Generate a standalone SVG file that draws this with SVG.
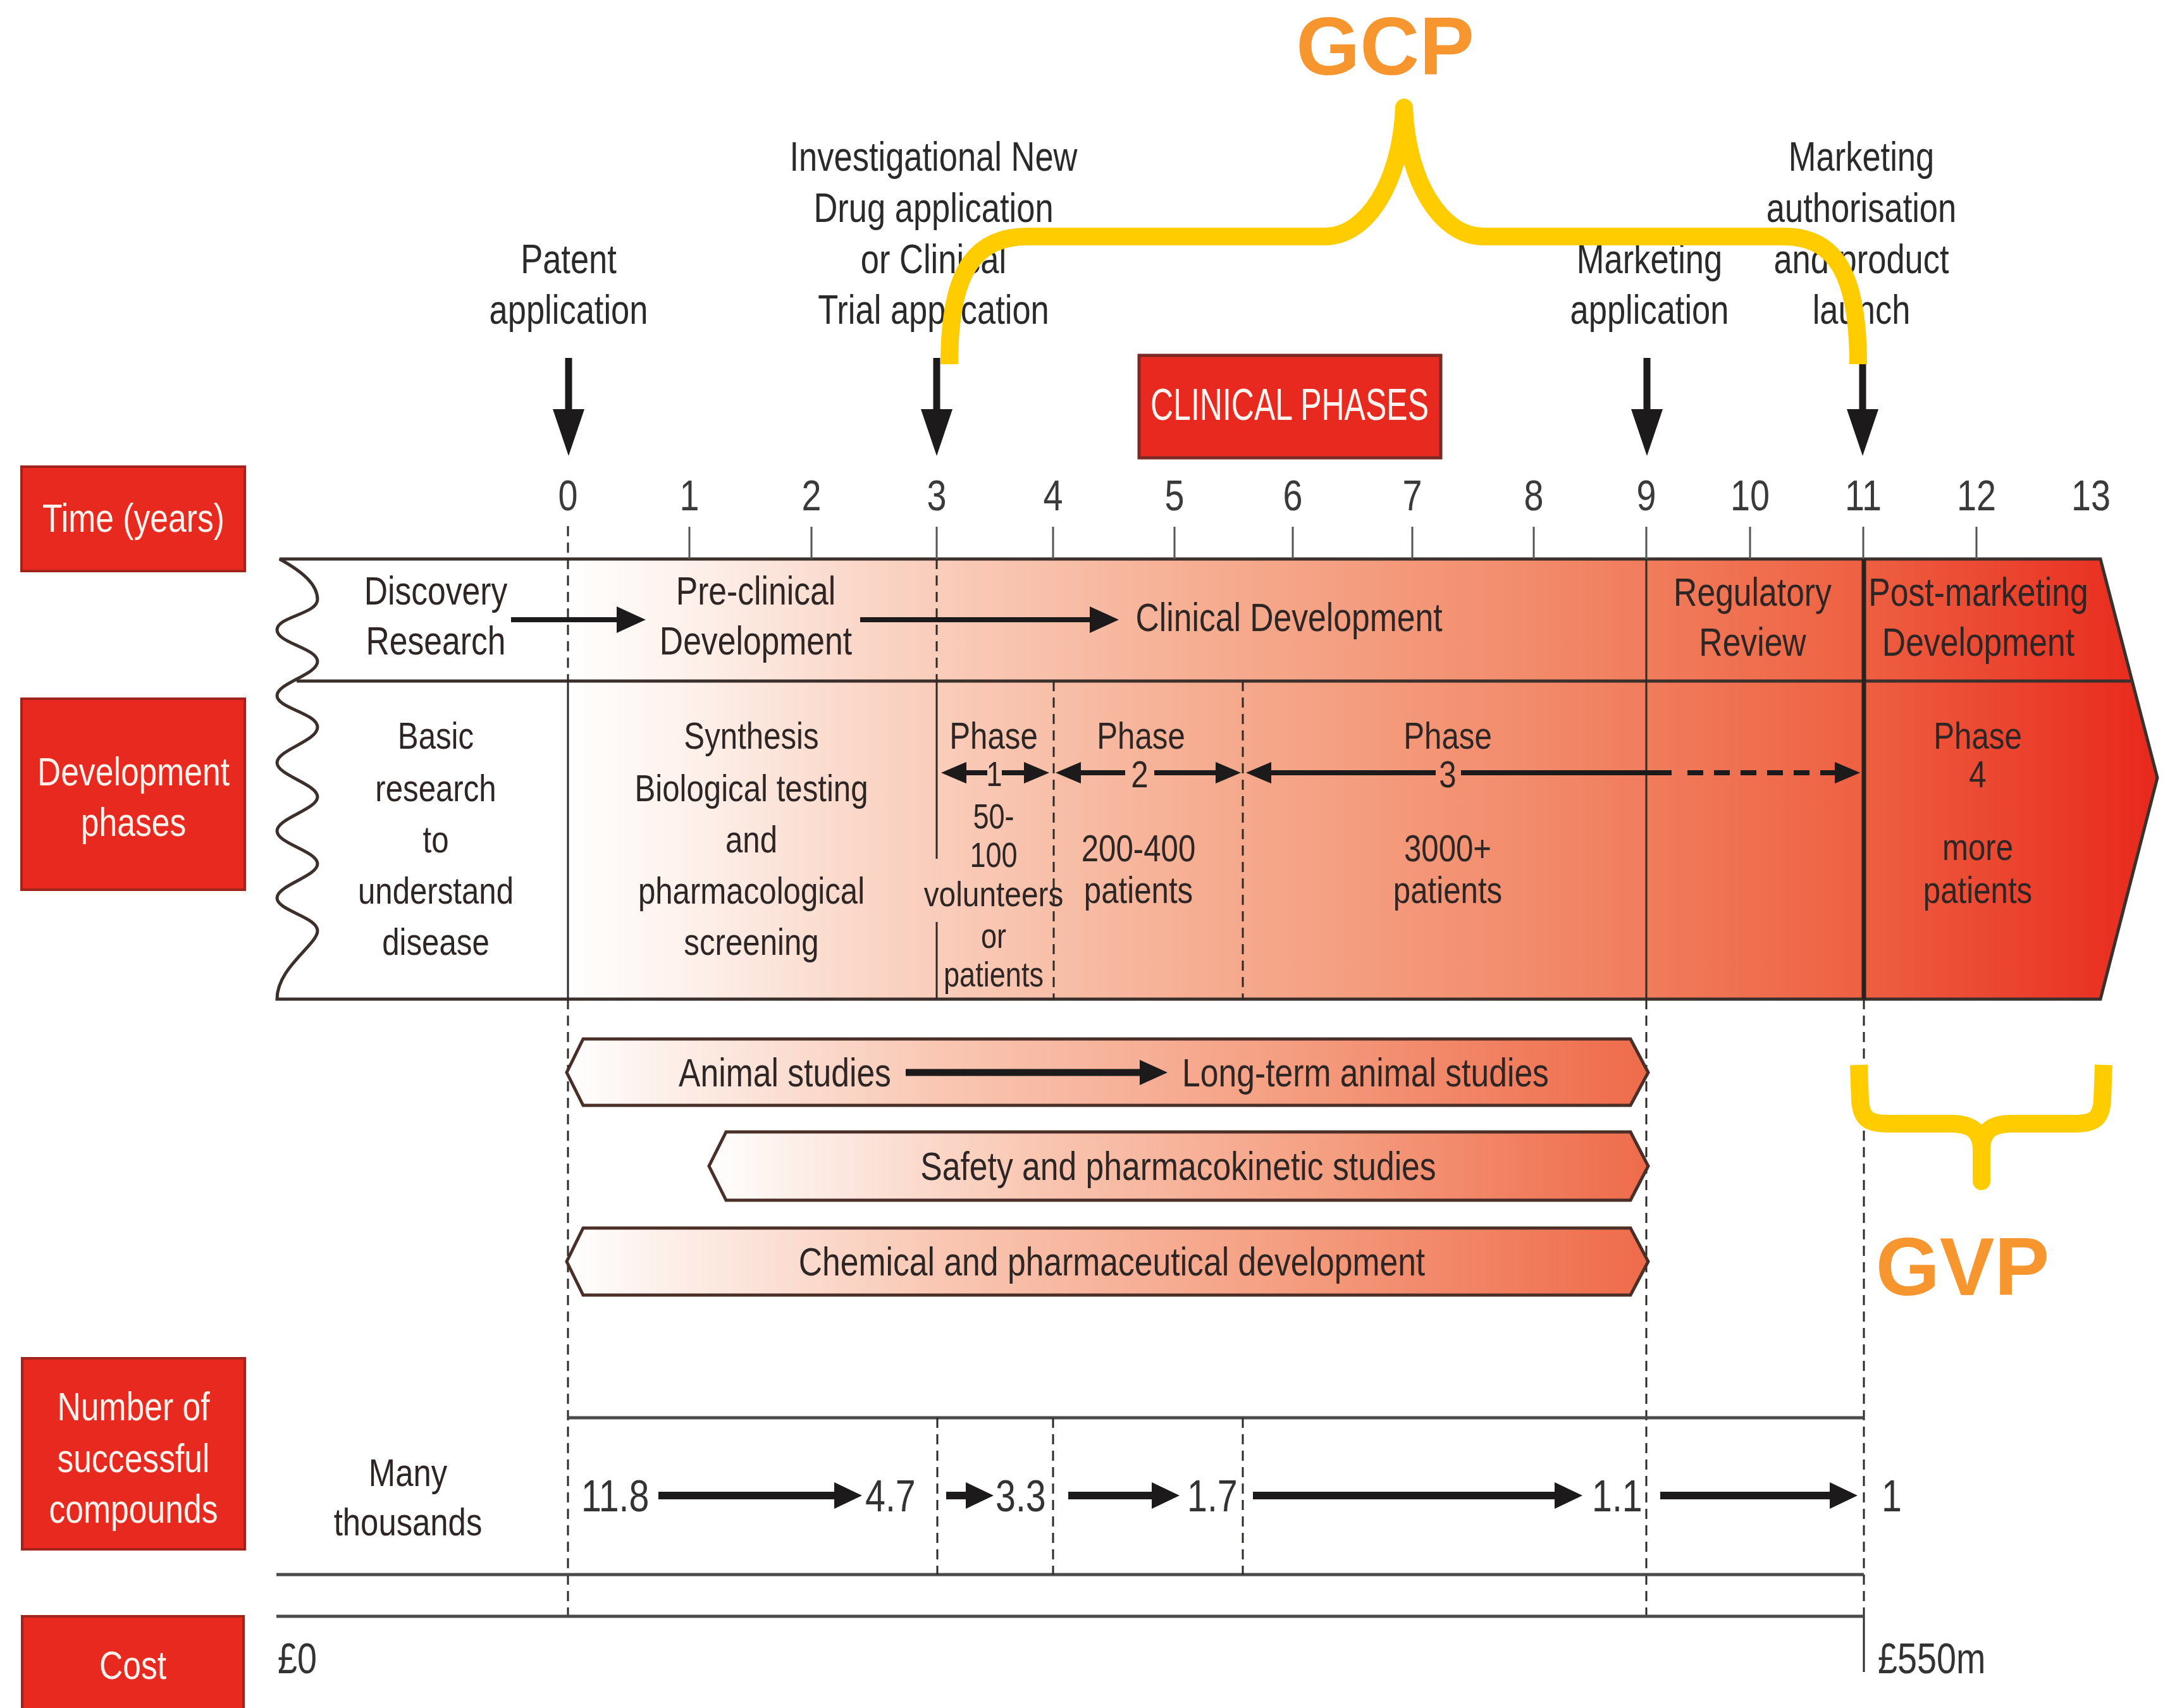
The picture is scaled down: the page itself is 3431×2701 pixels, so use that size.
<svg xmlns="http://www.w3.org/2000/svg" width="3431" height="2701" viewBox="0 0 3431 2701">
<defs>
  <linearGradient id="bandGrad" gradientUnits="userSpaceOnUse" x1="898" y1="0" x2="3411" y2="0">
    <stop offset="0" stop-color="#ffffff"/>
    <stop offset="0.08" stop-color="#fdf0ea"/>
    <stop offset="0.2" stop-color="#fad3c3"/>
    <stop offset="0.4" stop-color="#f6ad91"/>
    <stop offset="0.6" stop-color="#f28c6c"/>
    <stop offset="0.8" stop-color="#ee6444"/>
    <stop offset="1" stop-color="#e8281c"/>
  </linearGradient>
  <linearGradient id="barGrad" x1="0" y1="0" x2="1" y2="0">
    <stop offset="0" stop-color="#ffffff"/>
    <stop offset="0.08" stop-color="#fdf1ec"/>
    <stop offset="0.35" stop-color="#f9c6b2"/>
    <stop offset="0.65" stop-color="#f5a083"/>
    <stop offset="1" stop-color="#ee6b4a"/>
  </linearGradient>
  <marker id="ahBand" markerUnits="userSpaceOnUse" viewBox="0 0 46 42" markerWidth="46" markerHeight="42" refX="1" refY="21" orient="auto">
    <path d="M0,0 L46,21 L0,42 z" fill="#1c1a1a"/>
  </marker>
  <marker id="ahPhase" markerUnits="userSpaceOnUse" viewBox="0 0 40 34" markerWidth="40" markerHeight="34" refX="1" refY="17" orient="auto">
    <path d="M0,0 L40,17 L0,34 z" fill="#1c1a1a"/>
  </marker>
  <marker id="ahDown" markerUnits="userSpaceOnUse" viewBox="0 0 74 50" markerWidth="74" markerHeight="50" refX="1" refY="25" orient="auto">
    <path d="M0,0 L74,25 L0,50 z" fill="#1c1a1a"/>
  </marker>
  <marker id="ahComp" markerUnits="userSpaceOnUse" viewBox="0 0 44 42" markerWidth="44" markerHeight="42" refX="1" refY="21" orient="auto">
    <path d="M0,0 L44,21 L0,42 z" fill="#1c1a1a"/>
  </marker>
  <marker id="ahBar" markerUnits="userSpaceOnUse" viewBox="0 0 44 40" markerWidth="44" markerHeight="40" refX="1" refY="20" orient="auto">
    <path d="M0,0 L44,20 L0,40 z" fill="#1c1a1a"/>
  </marker>
</defs>
<style>
  .t { font-family: 'Liberation Sans', Arial, sans-serif; fill: #2e2624; text-anchor: middle; }
  .top { font-size: 64px; fill: #2a2a2a; }
  .axis { font-size: 68px; fill: #3a3a3a; }
  .b1 { font-size: 63px; }
  .b2 { font-size: 60px; }
  .p1 { font-size: 55px; }
  .bar { font-size: 63px; }
  .cmp { font-size: 70px; fill: #333333; text-anchor: start; }
  .cst { font-size: 68px; fill: #333333; text-anchor: start; }
  .many { font-size: 62px; }
  .box { fill: #e8291f; stroke: #a0241b; stroke-width: 4; }
  .boxt { font-size: 63px; fill: #fff2ec; }
  .grad { stroke: #3b302c; stroke-width: 5; }
  .barshape { fill: url(#barGrad); stroke: #4a2e28; stroke-width: 5; }
  .solid { stroke: #2f2a28; stroke-width: 3; fill: none; }
  .dash { stroke: #2f2a28; stroke-width: 3; stroke-dasharray: 16 10; fill: none; }
  .tick { stroke: #555555; stroke-width: 3; }
  .hline { stroke: #4a4a4a; stroke-width: 5; }
  .arr { stroke: #1c1a1a; fill: none; }
  .yel { stroke: #ffcc00; stroke-width: 28; fill: none; }
  .gxp { font-family: 'Liberation Sans', Arial, sans-serif; font-weight: bold; font-size: 130px; fill: #f7962f; text-anchor: middle; }
</style>

<rect x="0" y="0" width="3431" height="2701" fill="#ffffff"/>

<!-- Main band -->
<g id="band">
  <path class="grad" fill="url(#bandGrad)" d="M 442,884 C 480,905 502,925 502,948 S 438,975 438,996 S 502,1025 502,1046 S 438,1080 438,1100 S 502,1128 502,1150 S 438,1186 438,1206 S 502,1240 502,1260 S 438,1294 438,1314 S 502,1346 502,1366 S 438,1400 438,1420 S 502,1450 502,1472 S 438,1530 438,1580 L 3321,1580 L 3411,1230 L 3321,884 Z"/>
  <line x1="469" y1="1077" x2="3371" y2="1077" class="grad"/>
  <g class="tick">
    <line x1="1090" y1="833" x2="1090" y2="884"/>
    <line x1="1283" y1="833" x2="1283" y2="884"/>
    <line x1="1481" y1="833" x2="1481" y2="884"/>
    <line x1="1665" y1="833" x2="1665" y2="884"/>
    <line x1="1857" y1="833" x2="1857" y2="884"/>
    <line x1="2044" y1="833" x2="2044" y2="884"/>
    <line x1="2233" y1="833" x2="2233" y2="884"/>
    <line x1="2425" y1="833" x2="2425" y2="884"/>
    <line x1="2603" y1="833" x2="2603" y2="884"/>
    <line x1="2767" y1="833" x2="2767" y2="884"/>
    <line x1="2946" y1="833" x2="2946" y2="884"/>
    <line x1="3125" y1="833" x2="3125" y2="884"/>
  </g>
  <line x1="898" y1="832" x2="898" y2="1077" class="dash"/>
  <line x1="898" y1="1077" x2="898" y2="1580" class="solid"/>
  <line x1="1481" y1="884" x2="1481" y2="1077" class="dash"/>
  <line x1="1481" y1="1077" x2="1481" y2="1358" class="solid"/>
  <line x1="1481" y1="1458" x2="1481" y2="1580" class="solid"/>
  <line x1="1666" y1="1077" x2="1666" y2="1580" class="dash"/>
  <line x1="1965" y1="1077" x2="1965" y2="1580" class="dash"/>
  <line x1="2603" y1="884" x2="2603" y2="1580" class="solid"/>
  <line x1="2947" y1="884" x2="2947" y2="1580" stroke="#2a2220" stroke-width="7"/>
</g>

<!-- Long guide lines below band -->
<g id="guides">
  <line x1="898" y1="1580" x2="898" y2="2556" class="dash"/>
  <line x1="2603" y1="1580" x2="2603" y2="2556" class="dash"/>
  <line x1="2947" y1="1580" x2="2947" y2="2556" class="dash"/>
  <line x1="2947" y1="2556" x2="2947" y2="2644" class="solid"/>
  <line x1="898" y1="2242" x2="2947" y2="2242" class="hline"/>
  <line x1="437" y1="2490" x2="2947" y2="2490" class="hline"/>
  <line x1="437" y1="2556" x2="2947" y2="2556" class="hline"/>
  <line x1="1482" y1="2242" x2="1482" y2="2490" class="dash"/>
  <line x1="1665" y1="2242" x2="1665" y2="2490" class="dash"/>
  <line x1="1965" y1="2242" x2="1965" y2="2490" class="dash"/>
</g>

<!-- Left category boxes -->
<g id="time-box">
  <rect x="34" y="738" width="353" height="165" class="box"/>
  <text transform="translate(211,841) scale(0.82,1)" class="t boxt">Time (years)</text>
</g>
<g id="dev-box">
  <rect x="34" y="1105" width="353" height="302" class="box"/>
  <text transform="translate(211,1242) scale(0.82,1)" class="t boxt">Development</text>
  <text transform="translate(211,1322) scale(0.82,1)" class="t boxt">phases</text>
</g>
<g id="num-box">
  <rect x="35" y="2148" width="352" height="302" class="box"/>
  <text transform="translate(211,2246) scale(0.82,1)" class="t boxt">Number of</text>
  <text transform="translate(211,2328) scale(0.82,1)" class="t boxt">successful</text>
  <text transform="translate(211,2408) scale(0.82,1)" class="t boxt">compounds</text>
</g>
<g id="cost-box">
  <rect x="35" y="2556" width="350" height="170" class="box"/>
  <text transform="translate(210,2655) scale(0.82,1)" class="t boxt">Cost</text>
</g>

<!-- Axis numbers -->
<g id="axis">
  <text transform="translate(898,807) scale(0.82,1)" class="t axis">0</text>
  <text transform="translate(1090,807) scale(0.82,1)" class="t axis">1</text>
  <text transform="translate(1283,807) scale(0.82,1)" class="t axis">2</text>
  <text transform="translate(1481,807) scale(0.82,1)" class="t axis">3</text>
  <text transform="translate(1665,807) scale(0.82,1)" class="t axis">4</text>
  <text transform="translate(1857,807) scale(0.82,1)" class="t axis">5</text>
  <text transform="translate(2044,807) scale(0.82,1)" class="t axis">6</text>
  <text transform="translate(2233,807) scale(0.82,1)" class="t axis">7</text>
  <text transform="translate(2425,807) scale(0.82,1)" class="t axis">8</text>
  <text transform="translate(2603,807) scale(0.82,1)" class="t axis">9</text>
  <text transform="translate(2767,807) scale(0.82,1)" class="t axis">10</text>
  <text transform="translate(2946,807) scale(0.82,1)" class="t axis">11</text>
  <text transform="translate(3125,807) scale(0.82,1)" class="t axis">12</text>
  <text transform="translate(3306,807) scale(0.82,1)" class="t axis">13</text>
</g>

<!-- Milestone labels -->
<g id="patent-label">
  <text transform="translate(899,432) scale(0.82,1)" class="t top">Patent</text>
  <text transform="translate(899,512) scale(0.82,1)" class="t top">application</text>
</g>
<g id="ind-label">
  <text transform="translate(1476,270) scale(0.82,1)" class="t top">Investigational New</text>
  <text transform="translate(1476,351) scale(0.82,1)" class="t top">Drug application</text>
  <text transform="translate(1476,432) scale(0.82,1)" class="t top">or Clinical</text>
  <text transform="translate(1476,512) scale(0.82,1)" class="t top">Trial application</text>
</g>
<g id="marketing-app-label">
  <text transform="translate(2608,432) scale(0.82,1)" class="t top">Marketing</text>
  <text transform="translate(2608,512) scale(0.82,1)" class="t top">application</text>
</g>
<g id="launch-label">
  <text transform="translate(2943,270) scale(0.82,1)" class="t top">Marketing</text>
  <text transform="translate(2943,351) scale(0.82,1)" class="t top">authorisation</text>
  <text transform="translate(2943,432) scale(0.82,1)" class="t top">and product</text>
  <text transform="translate(2943,512) scale(0.82,1)" class="t top">launch</text>
</g>

<g id="clinical-phases">
  <rect x="1801" y="562" width="477" height="162" fill="#e8291f" stroke="#7a2a22" stroke-width="5"/>
  <text x="2039" y="664" class="t" style="fill:#fff4ef;font-size:70px" textLength="440" lengthAdjust="spacingAndGlyphs">CLINICAL PHASES</text>
</g>

<!-- Band top row labels -->
<g id="discovery">
  <text transform="translate(689,956) scale(0.82,1)" class="t b1">Discovery</text>
  <text transform="translate(689,1035) scale(0.82,1)" class="t b1">Research</text>
</g>
<g id="preclinical">
  <text transform="translate(1195,956) scale(0.82,1)" class="t b1">Pre-clinical</text>
  <text transform="translate(1195,1035) scale(0.82,1)" class="t b1">Development</text>
</g>
<g id="clinical-dev">
  <text transform="translate(2038,998) scale(0.82,1)" class="t b1">Clinical Development</text>
</g>
<g id="regulatory">
  <text transform="translate(2771,958) scale(0.82,1)" class="t b1">Regulatory</text>
  <text transform="translate(2771,1037) scale(0.82,1)" class="t b1">Review</text>
</g>
<g id="postmarketing">
  <text transform="translate(3128,958) scale(0.82,1)" class="t b1">Post-marketing</text>
  <text transform="translate(3128,1037) scale(0.82,1)" class="t b1">Development</text>
</g>

<!-- Band bottom row labels -->
<g id="basic">
  <text transform="translate(689,1184) scale(0.82,1)" class="t b2">Basic</text>
  <text transform="translate(689,1267) scale(0.82,1)" class="t b2">research</text>
  <text transform="translate(689,1348) scale(0.82,1)" class="t b2">to</text>
  <text transform="translate(689,1429) scale(0.82,1)" class="t b2">understand</text>
  <text transform="translate(689,1510) scale(0.82,1)" class="t b2">disease</text>
</g>
<g id="synthesis">
  <text transform="translate(1188,1184) scale(0.82,1)" class="t b2">Synthesis</text>
  <text transform="translate(1188,1267) scale(0.82,1)" class="t b2">Biological testing</text>
  <text transform="translate(1188,1348) scale(0.82,1)" class="t b2">and</text>
  <text transform="translate(1188,1429) scale(0.82,1)" class="t b2">pharmacological</text>
  <text transform="translate(1188,1510) scale(0.82,1)" class="t b2">screening</text>
</g>
<g id="phase1">
  <text transform="translate(1571,1184) scale(0.82,1)" class="t b2">Phase</text>
  <text transform="translate(1572,1243) scale(0.82,1)" class="t p1">1</text>
  <text transform="translate(1571,1310) scale(0.82,1)" class="t p1">50-</text>
  <text transform="translate(1571,1371) scale(0.82,1)" class="t p1">100</text>
  <text transform="translate(1571,1433) scale(0.87,1)" class="t p1">volunteers</text>
  <text transform="translate(1571,1499) scale(0.82,1)" class="t p1">or</text>
  <text transform="translate(1571,1560) scale(0.82,1)" class="t p1">patients</text>
</g>
<g id="phase2">
  <text transform="translate(1804,1184) scale(0.82,1)" class="t b2">Phase</text>
  <text transform="translate(1802,1245) scale(0.82,1)" class="t b2">2</text>
  <text transform="translate(1800,1362) scale(0.82,1)" class="t b2">200-400</text>
  <text transform="translate(1800,1428) scale(0.82,1)" class="t b2">patients</text>
</g>
<g id="phase3">
  <text transform="translate(2289,1184) scale(0.82,1)" class="t b2">Phase</text>
  <text transform="translate(2289,1245) scale(0.82,1)" class="t b2">3</text>
  <text transform="translate(2289,1362) scale(0.82,1)" class="t b2">3000+</text>
  <text transform="translate(2289,1428) scale(0.82,1)" class="t b2">patients</text>
</g>
<g id="phase4">
  <text transform="translate(3127,1184) scale(0.82,1)" class="t b2">Phase</text>
  <text transform="translate(3127,1245) scale(0.82,1)" class="t b2">4</text>
  <text transform="translate(3127,1360) scale(0.82,1)" class="t b2">more</text>
  <text transform="translate(3127,1428) scale(0.82,1)" class="t b2">patients</text>
</g>

<!-- Study bars -->
<g id="bar-animal">
  <polygon class="barshape" points="922,1643 2578,1643 2606,1696 2578,1748 922,1748 896,1696"/>
  <text transform="translate(1241,1718) scale(0.82,1)" class="t bar">Animal studies</text>
  <text transform="translate(2159,1718) scale(0.82,1)" class="t bar">Long-term animal studies</text>
</g>
<g id="bar-safety">
  <polygon class="barshape" points="1148,1790 2578,1790 2606,1844 2578,1898 1148,1898 1121,1844"/>
  <text transform="translate(1863,1866) scale(0.82,1)" class="t bar">Safety and pharmacokinetic studies</text>
</g>
<g id="bar-chemical">
  <polygon class="barshape" points="922,1942 2578,1942 2606,1995 2578,2048 922,2048 896,1995"/>
  <text transform="translate(1758,2017) scale(0.82,1)" class="t bar">Chemical and pharmaceutical development</text>
</g>

<!-- Compounds and cost -->
<g id="compounds">
  <text transform="translate(645,2350) scale(0.82,1)" class="t many">Many</text>
  <text transform="translate(645,2428) scale(0.82,1)" class="t many">thousands</text>
  <text transform="translate(919,2390) scale(0.82,1)" class="t cmp">11.8</text>
  <text transform="translate(1368,2390) scale(0.82,1)" class="t cmp">4.7</text>
  <text transform="translate(1574,2390) scale(0.82,1)" class="t cmp">3.3</text>
  <text transform="translate(1877,2390) scale(0.82,1)" class="t cmp">1.7</text>
  <text transform="translate(2517,2390) scale(0.82,1)" class="t cmp">1.1</text>
  <text transform="translate(2975,2390) scale(0.82,1)" class="t cmp">1</text>
</g>
<g id="cost">
  <text transform="translate(439,2646) scale(0.82,1)" class="t cst">£0</text>
  <text transform="translate(2969,2646) scale(0.82,1)" class="t cst">£550m</text>
</g>

<!-- Connectors -->
<g id="connectors">
  <g class="arr" stroke-width="11">
    <line x1="899" y1="566" x2="899" y2="648" marker-end="url(#ahDown)"/>
    <line x1="1481" y1="566" x2="1481" y2="648" marker-end="url(#ahDown)"/>
    <line x1="2604" y1="566" x2="2604" y2="648" marker-end="url(#ahDown)"/>
    <line x1="2945" y1="566" x2="2945" y2="648" marker-end="url(#ahDown)"/>
  </g>
  <g class="arr" stroke-width="8">
    <line x1="808" y1="980" x2="976" y2="980" marker-end="url(#ahBand)"/>
    <line x1="1360" y1="980" x2="1724" y2="980" marker-end="url(#ahBand)"/>
  </g>
  <g class="arr" stroke-width="8">
    <line x1="1561" y1="1222" x2="1527" y2="1222" marker-end="url(#ahPhase)"/>
    <line x1="1584" y1="1222" x2="1620" y2="1222" marker-end="url(#ahPhase)"/>
    <line x1="1779" y1="1222" x2="1708" y2="1222" marker-end="url(#ahPhase)"/>
    <line x1="1825" y1="1222" x2="1923" y2="1222" marker-end="url(#ahPhase)"/>
    <line x1="2270" y1="1222" x2="2009" y2="1222" marker-end="url(#ahPhase)"/>
    <line x1="2310" y1="1222" x2="2643" y2="1222"/>
    <line x1="2668" y1="1222" x2="2902" y2="1222" stroke-dasharray="25 17" marker-end="url(#ahPhase)"/>
  </g>
  <g class="arr" stroke-width="11">
    <line x1="1432" y1="1696" x2="1803" y2="1696" marker-end="url(#ahBar)"/>
  </g>
  <g class="arr" stroke-width="12">
    <line x1="1041" y1="2365" x2="1320" y2="2365" marker-end="url(#ahComp)"/>
    <line x1="1496" y1="2365" x2="1528" y2="2365" marker-end="url(#ahComp)"/>
    <line x1="1689" y1="2365" x2="1822" y2="2365" marker-end="url(#ahComp)"/>
    <line x1="1981" y1="2365" x2="2459" y2="2365" marker-end="url(#ahComp)"/>
    <line x1="2625" y1="2365" x2="2894" y2="2365" marker-end="url(#ahComp)"/>
  </g>
</g>

<!-- GCP / GVP annotations -->
<g id="gcp">
  <path class="yel" stroke-linejoin="round" d="M 1501,576 C 1501,430 1540,374 1625,374 L 2095,374 C 2160,374 2215,290 2220,170 C 2225,290 2280,374 2345,374 L 2820,374 C 2900,374 2938,430 2938,576"/>
  <text x="2190" y="118" class="gxp">GCP</text>
</g>
<g id="gvp">
  <path class="yel" d="M 2939,1684 L 2941,1740 C 2943,1770 2955,1777 2985,1777 L 3085,1777 C 3118,1777 3133,1790 3133,1818 M 3326,1684 L 3324,1740 C 3322,1770 3310,1777 3280,1777 L 3180,1777 C 3148,1777 3133,1790 3133,1818"/>
  <path class="yel" stroke-linecap="round" d="M 3133,1800 L 3133,1868"/>
  <text x="3103" y="2048" class="gxp">GVP</text>
</g>
</svg>
